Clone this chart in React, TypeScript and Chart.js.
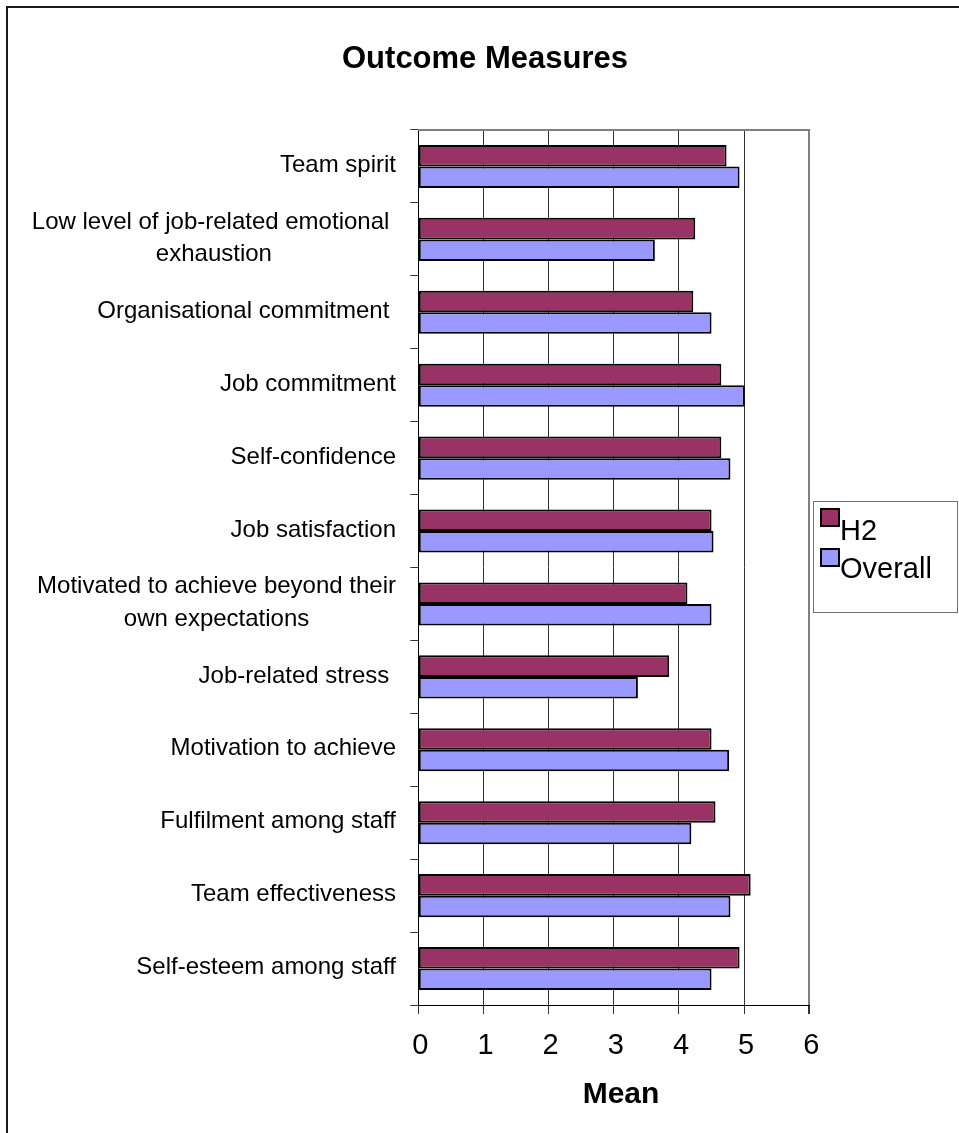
import React, { useEffect, useRef } from "react";
import { Chart, registerables } from "chart.js";

Chart.register(...registerables);

const TITLE = "Outcome Measures";
const X_TITLE = "Mean";
const categories: (string | string[])[] = [
  "Team spirit",
  ["Low level of job-related emotional ", "exhaustion"],
  "Organisational commitment ",
  "Job commitment",
  "Self-confidence",
  "Job satisfaction",
  ["Motivated to achieve beyond their", "own expectations"],
  "Job-related stress ",
  "Motivation to achieve",
  "Fulfilment among staff",
  "Team effectiveness",
  "Self-esteem among staff",
];
const seriesNames = ["H2", "Overall"];
const h2Values = [4.73, 4.25, 4.22, 4.65, 4.65, 4.5, 4.13, 3.85, 4.5, 4.56, 5.1, 4.93];
const overallValues = [4.93, 3.63, 4.5, 5.01, 4.79, 4.53, 4.5, 3.37, 4.77, 4.19, 4.79, 4.5];
const xTicks = [0, 1, 2, 3, 4, 5, 6];
const colors = ["#993366", "#9999FF"];

const FONT = '"Liberation Sans", Arial, sans-serif';

const decor = {
  id: "decor",
  beforeDraw(chart: any) {
    const ctx = chart.ctx;
    ctx.save();
    ctx.fillStyle = "#ffffff";
    ctx.fillRect(0, 0, chart.width, chart.height);
    ctx.restore();
  },
  afterDraw(chart: any) {
    const ctx = chart.ctx;
    const ca = chart.chartArea;
    const y = chart.scales.y;
    ctx.save();
    // outer frame
    ctx.strokeStyle = "#1a1a1a";
    ctx.lineWidth = 2;
    ctx.strokeRect(7, 7, 2000, 2000);
    // plot area top border
    ctx.strokeStyle = "#808080";
    ctx.lineWidth = 2;
    ctx.beginPath();
    ctx.moveTo(ca.left, ca.top);
    ctx.lineTo(ca.right + 1, ca.top);
    ctx.stroke();

    // title
    ctx.fillStyle = "#000";
    ctx.font = `bold 31px ${FONT}`;
    ctx.textAlign = "center";
    ctx.textBaseline = "alphabetic";
    ctx.fillText(TITLE, 485, 68);

    // axis title
    ctx.font = `bold 30px ${FONT}`;
    ctx.fillText(X_TITLE, 621, 1103);

    // category labels (right-aligned block, lines centered within block)
    ctx.font = `24px ${FONT}`;
    ctx.textBaseline = "middle";
    ctx.textAlign = "center";
    const R = 396;
    const lineH = 32.6;
    categories.forEach((lab, i) => {
      const lines = Array.isArray(lab) ? lab : [lab];
      const w = Math.max(...lines.map((l) => ctx.measureText(l).width));
      const cx = R - w / 2;
      const cy = y.getPixelForValue(i) - 1;
      lines.forEach((l, k) => {
        ctx.fillText(l, cx, cy + (k - (lines.length - 1) / 2) * lineH);
      });
    });

    // legend
    ctx.strokeStyle = "#707070";
    ctx.lineWidth = 1;
    ctx.strokeRect(813.5, 501.5, 144, 111);
    ctx.font = `29px ${FONT}`;
    ctx.textAlign = "left";
    ctx.textBaseline = "alphabetic";
    const sq = [509, 549];
    const base = [540, 578];
    seriesNames.forEach((n, i) => {
      ctx.fillStyle = colors[i];
      ctx.fillRect(821, sq[i], 18, 17);
      ctx.strokeStyle = "#000";
      ctx.lineWidth = 2;
      ctx.strokeRect(821, sq[i], 18, 17);
      ctx.fillStyle = "#000";
      ctx.fillText(n, 840, base[i]);
    });
    ctx.restore();
  },
};

export default function App() {
  const ref = useRef<HTMLCanvasElement | null>(null);
  useEffect(() => {
    if (!ref.current) return;
    const ds = (i: number, data: number[]) => ({
      label: seriesNames[i],
      data,
      backgroundColor: colors[i],
      borderColor: "#000",
      borderWidth: 2,
      borderSkipped: false,
      barPercentage: 1,
      categoryPercentage: 0.59,
    });
    const chart = new Chart(ref.current, {
      type: "bar",
      data: {
        labels: categories.map((c) => (Array.isArray(c) ? c.join(" ") : c)),
        datasets: [ds(0, h2Values), ds(1, overallValues)],
      },
      options: {
        indexAxis: "y",
        responsive: false,
        animation: false,
        devicePixelRatio: 1,
        layout: { padding: { left: 0, top: 130, right: 149.7, bottom: 0 } },
        plugins: {
          legend: { display: false },
          title: { display: false },
          tooltip: { enabled: false },
        },
        scales: {
          x: {
            type: "linear",
            min: 0,
            max: 6,
            afterBuildTicks: (s: any) => {
              s.ticks = xTicks.map((v) => ({ value: v }));
            },
            afterFit: (s: any) => {
              s.height = 128;
            },
            ticks: {
              font: { family: FONT, size: 29 },
              color: "#000",
              padding: 15,
              labelOffset: 2,
              maxRotation: 0,
              autoSkip: false,
            },
            grid: {
              color: (c: any) => (c.tick && c.tick.value === 6 ? "#808080" : "#333333"),
              lineWidth: (c: any) => (c.tick && c.tick.value === 6 ? 2 : 1),
              tickColor: "#333333",
              tickLength: 9,
              drawTicks: true,
            },
            border: { display: true, color: "#000", width: 1 },
          },
          y: {
            type: "category",
            afterFit: (s: any) => {
              s.width = 418.3;
            },
            ticks: { display: false },
            grid: {
              drawOnChartArea: false,
              drawTicks: true,
              tickLength: 8,
              color: "#333333",
              offset: true,
            },
            border: { display: true, color: "#000", width: 1 },
          },
        },
      },
      plugins: [decor],
    });
    return () => chart.destroy();
  }, []);
  return (
    <div style={{ position: "absolute", left: 0, top: 0, width: 959, height: 1133 }}>
      <canvas ref={ref} width={959} height={1133} style={{ display: "block", width: 959, height: 1133 }} />
    </div>
  );
}
